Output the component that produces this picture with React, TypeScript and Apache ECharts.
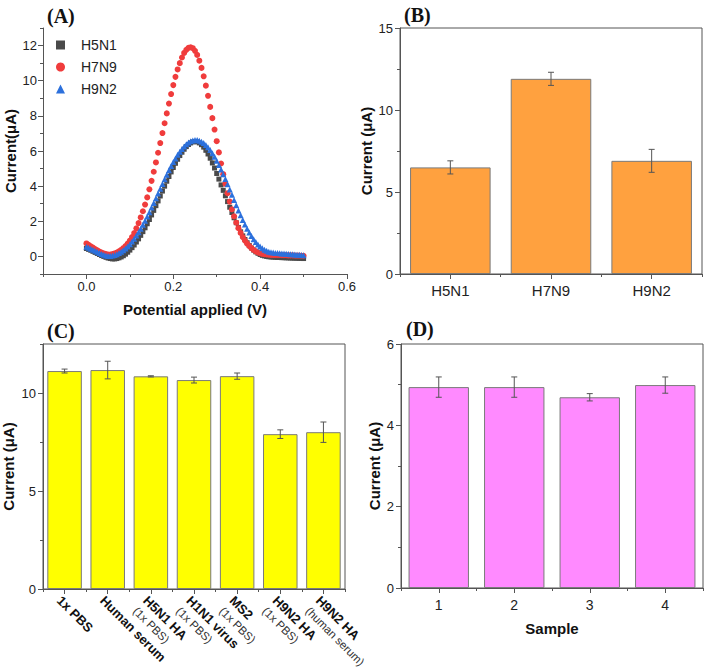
import React, { useEffect, useRef } from "react";
import * as echarts from "echarts";

// ---------- Panel A data (DPV curves) ----------
const potentials: number[] = Array.from({ length: 101 }, (_, i) => Math.round(i * 5) / 1000);
const h5n1Curve = [
  0.45, 0.40, 0.35, 0.29, 0.23, 0.17, 0.11, 0.05, 0.00, -0.05,
  -0.09, -0.12, -0.14, -0.14, -0.12, -0.08, -0.03, 0.04, 0.13, 0.24,
  0.36, 0.50, 0.65, 0.82, 1.00, 1.20, 1.41, 1.63, 1.86, 2.10,
  2.36, 2.62, 2.89, 3.16, 3.44, 3.72, 4.00, 4.28, 4.55, 4.81,
  5.06, 5.30, 5.53, 5.74, 5.93, 6.10, 6.25, 6.37, 6.46, 6.52,
  6.54, 6.52, 6.46, 6.36, 6.22, 6.04, 5.83, 5.59, 5.32, 5.03,
  4.72, 4.40, 4.07, 3.76, 3.45, 3.12, 2.80, 2.50, 2.20, 1.92,
  1.65, 1.40, 1.17, 0.96, 0.78, 0.62, 0.48, 0.36, 0.26, 0.18,
  0.11, 0.06, 0.03, 0.00, -0.02, -0.03, -0.04, -0.05, -0.06, -0.06,
  -0.07, -0.07, -0.08, -0.08, -0.09, -0.09, -0.10, -0.10, -0.11, -0.11,
  -0.12,
];
const h7n9Curve = [
  0.74, 0.66, 0.58, 0.50, 0.42, 0.35, 0.28, 0.22, 0.17, 0.13,
  0.11, 0.11, 0.13, 0.17, 0.22, 0.29, 0.37, 0.47, 0.59, 0.73,
  0.90, 1.10, 1.33, 1.60, 1.90, 2.22, 2.57, 2.95, 3.36, 3.82,
  4.30, 4.82, 5.35, 5.90, 6.45, 7.02, 7.58, 8.14, 8.70, 9.24,
  9.75, 10.22, 10.64, 11.00, 11.32, 11.58, 11.76, 11.87, 11.90, 11.85,
  11.70, 11.47, 11.14, 10.73, 10.25, 9.72, 9.14, 8.51, 7.87, 7.22,
  6.56, 5.92, 5.29, 4.68, 4.13, 3.60, 3.12, 2.68, 2.28, 1.92,
  1.61, 1.34, 1.10, 0.90, 0.73, 0.59, 0.47, 0.37, 0.29, 0.23,
  0.18, 0.15, 0.13, 0.11, 0.10, 0.09, 0.09, 0.08, 0.08, 0.08,
  0.07, 0.07, 0.07, 0.06, 0.06, 0.06, 0.05, 0.05, 0.05, 0.04,
  0.04,
];
const h9n2Curve = [
  0.55, 0.50, 0.44, 0.38, 0.32, 0.26, 0.20, 0.14, 0.09, 0.05,
  0.03, 0.03, 0.05, 0.08, 0.13, 0.19, 0.26, 0.35, 0.45, 0.57,
  0.70, 0.85, 1.01, 1.19, 1.38, 1.58, 1.80, 2.03, 2.27, 2.52,
  2.78, 3.04, 3.31, 3.58, 3.85, 4.12, 4.39, 4.65, 4.90, 5.14,
  5.37, 5.58, 5.78, 5.96, 6.12, 6.26, 6.38, 6.48, 6.55, 6.60,
  6.62, 6.62, 6.59, 6.53, 6.45, 6.34, 6.21, 6.05, 5.87, 5.67,
  5.45, 5.21, 4.95, 4.68, 4.40, 4.11, 3.81, 3.51, 3.21, 2.91,
  2.62, 2.34, 2.07, 1.82, 1.58, 1.36, 1.16, 0.98, 0.82, 0.68,
  0.56, 0.46, 0.38, 0.32, 0.27, 0.24, 0.22, 0.20, 0.19, 0.18,
  0.17, 0.16, 0.15, 0.14, 0.13, 0.12, 0.11, 0.10, 0.09, 0.08,
  0.07,
];
const aXMajor = [0, 0.2, 0.4, 0.6];
const aXMinor = [-0.1, 0.1, 0.3, 0.5];
const aYMajor = [0, 2, 4, 6, 8, 10, 12];
const aYMinor = [-1, 1, 3, 5, 7, 9, 11, 13];

// ---------- Panel B ----------
const bCategories = ["H5N1", "H7N9", "H9N2"];
const bValues = [6.5, 11.9, 6.9];
const bErrors = [0.4, 0.4, 0.7];
const bYMajor = [0, 5, 10, 15];
const bYMinor = [2.5, 7.5, 12.5];

// ---------- Panel C ----------
const cCategories = [
  ["1x PBS", ""],
  ["Human serum", ""],
  ["H5N1 HA", "(1x PBS)"],
  ["H1N1 virus", "(1x PBS)"],
  ["MS2", "(1x PBS)"],
  ["H9N2 HA", "(1x PBS)"],
  ["H9N2 HA", "(human serum)"],
];
const cValues = [11.12, 11.17, 10.85, 10.66, 10.86, 7.9, 8.0];
const cErrors = [0.1, 0.45, 0.03, 0.15, 0.16, 0.22, 0.52];
const cYMajor = [0, 5, 10];
const cYMinor = [2.5, 7.5, 12.5];

// ---------- Panel D ----------
const dCategories = ["1", "2", "3", "4"];
const dValues = [4.94, 4.94, 4.69, 4.99];
const dErrors = [0.25, 0.25, 0.09, 0.2];
const dYMajor = [0, 2, 4, 6];
const dYMinor = [1, 3, 5];

const FONT = "'Liberation Sans', Arial, Helvetica, sans-serif";
const AXIS_COLOR = "#555";
const TEXT_COLOR = "#222";

function majorValueAxis(grid: number, pos: string, min: number, max: number, ticks: number[], extra: any = {}) {
  return {
    type: "value",
    gridIndex: grid,
    position: pos,
    min,
    max,
    axisLine: { show: true, onZero: false, lineStyle: { color: AXIS_COLOR, width: 1 } },
    axisTick: { show: true, inside: false, length: 5, customValues: ticks, lineStyle: { color: AXIS_COLOR } },
    axisLabel: { show: true, customValues: ticks, color: TEXT_COLOR, fontFamily: FONT, fontSize: 13, margin: 7 },
    splitLine: { show: false },
    ...extra,
  };
}
function minorValueAxis(grid: number, pos: string, min: number, max: number, ticks: number[]) {
  return {
    type: "value",
    gridIndex: grid,
    position: pos,
    min,
    max,
    axisLine: { show: false, onZero: false },
    axisTick: { show: true, inside: false, length: 3, customValues: ticks, lineStyle: { color: AXIS_COLOR } },
    axisLabel: { show: false },
    splitLine: { show: false },
  };
}
function majorCatAxis(grid: number, data: any[], extra: any = {}) {
  return {
    type: "category",
    gridIndex: grid,
    position: "bottom",
    data,
    axisLine: { show: true, lineStyle: { color: AXIS_COLOR, width: 1 } },
    axisTick: { show: true, alignWithLabel: true, interval: 0, length: 5, lineStyle: { color: AXIS_COLOR } },
    splitLine: { show: false },
    ...extra,
  };
}
function minorCatAxis(grid: number, data: any[]) {
  return {
    type: "category",
    gridIndex: grid,
    position: "bottom",
    data,
    axisLine: { show: false },
    axisTick: { show: true, alignWithLabel: false, interval: 0, length: 3, lineStyle: { color: AXIS_COLOR } },
    axisLabel: { show: false },
    splitLine: { show: false },
  };
}
function barSeries(xi: number, yi: number, values: number[], color: string) {
  return {
    type: "bar",
    xAxisIndex: xi,
    yAxisIndex: yi,
    data: values,
    barCategoryGap: "20%",
    itemStyle: { color, borderColor: "#7a7a7a", borderWidth: 1 },
    silent: true,
  };
}
function errorSeries(xi: number, yi: number, values: number[], errs: number[]) {
  return {
    type: "custom",
    xAxisIndex: xi,
    yAxisIndex: yi,
    z: 10,
    silent: true,
    data: values.map((v, i) => [i, v - errs[i], v + errs[i]]),
    renderItem: (_params: any, api: any) => {
      const lo = api.coord([api.value(0), api.value(1)]);
      const hi = api.coord([api.value(0), api.value(2)]);
      const w = 3;
      const st = { stroke: "#555", lineWidth: 1 };
      return {
        type: "group",
        children: [
          { type: "line", shape: { x1: hi[0], y1: hi[1], x2: lo[0], y2: lo[1] }, style: st },
          { type: "line", shape: { x1: hi[0] - w, y1: hi[1], x2: hi[0] + w, y2: hi[1] }, style: st },
          { type: "line", shape: { x1: lo[0] - w, y1: lo[1], x2: lo[0] + w, y2: lo[1] }, style: st },
        ],
      };
    },
  };
}
function panelLabel(text: string, x: number, y: number) {
  return {
    type: "text",
    x,
    y,
    style: {
      text,
      font: "bold 20px 'Liberation Serif', 'Times New Roman', serif",
      fill: "#111",
      align: "left",
      verticalAlign: "middle",
    },
  };
}

const nameStyle = { fontFamily: FONT, fontSize: 15, fontWeight: "bold", color: "#111" };

export default function App() {
  const ref = useRef<HTMLDivElement>(null);
  useEffect(() => {
    if (!ref.current) return;
    const chart = echarts.init(ref.current, undefined, { renderer: "svg" });
    const gridBase = { outerBoundsMode: "none", containLabel: false };
    const option: any = {
      animation: false,
      backgroundColor: "#ffffff",
      textStyle: { fontFamily: FONT },
      grid: [
        { ...gridBase, left: 43, top: 28, width: 304, height: 246 },
        { ...gridBase, left: 400, top: 28, width: 302, height: 246, show: true, borderColor: AXIS_COLOR, borderWidth: 1 },
        { ...gridBase, left: 43, top: 344, width: 302, height: 245, show: true, borderColor: AXIS_COLOR, borderWidth: 1 },
        { ...gridBase, left: 401, top: 344, width: 302, height: 244, show: true, borderColor: AXIS_COLOR, borderWidth: 1 },
      ],
      legend: {
        orient: "vertical",
        left: 56,
        top: 38,
        padding: 0,
        itemGap: 8,
        itemWidth: 9,
        itemHeight: 9,
        data: ["H5N1", "H7N9", "H9N2"],
        textStyle: { fontFamily: FONT, fontSize: 14, color: TEXT_COLOR, padding: [0, 0, 0, 11] },
      },
      xAxis: [
        majorValueAxis(0, "bottom", -0.1, 0.6, aXMajor, {
          name: "Potential applied (V)",
          nameLocation: "middle",
          nameGap: 28,
          nameTextStyle: nameStyle,
          axisLabel: {
            show: true,
            customValues: aXMajor,
            color: TEXT_COLOR,
            fontFamily: FONT,
            fontSize: 13,
            margin: 6,
            formatter: (v: number) => v.toFixed(1),
          },
        }),
        minorValueAxis(0, "bottom", -0.1, 0.6, aXMinor),
        majorCatAxis(1, bCategories, {
          axisLabel: { color: TEXT_COLOR, fontFamily: FONT, fontSize: 15, margin: 9, interval: 0 },
        }),
        minorCatAxis(1, bCategories),
        majorCatAxis(2, cCategories.map((c) => c[0] + "|" + c[1]), {
          axisLabel: {
            interval: 0,
            rotate: -45,
            margin: 4,
            verticalAlign: "top",
            formatter: (v: string) => {
              const [a, b] = v.split("|");
              return b ? `{b|${a}}\n{n|${b}}` : `{b|${a}}`;
            },
            rich: {
              b: { fontFamily: FONT, fontSize: 13, fontWeight: "bold", color: "#111", lineHeight: 15 },
              n: { fontFamily: FONT, fontSize: 11.5, color: "#333", lineHeight: 15 },
            },
          },
        }),
        minorCatAxis(2, cCategories.map((c) => c[0] + "|" + c[1])),
        majorCatAxis(3, dCategories, {
          name: "Sample",
          nameLocation: "middle",
          nameGap: 33,
          nameTextStyle: nameStyle,
          axisLabel: { color: TEXT_COLOR, fontFamily: FONT, fontSize: 14, margin: 10, interval: 0 },
        }),
        minorCatAxis(3, dCategories),
      ],
      yAxis: [
        majorValueAxis(0, "left", -1, 13, aYMajor, {
          name: "Current(μA)",
          nameLocation: "middle",
          nameGap: 25,
          nameTextStyle: nameStyle,
          axisLabel: { show: true, customValues: aYMajor, color: TEXT_COLOR, fontFamily: FONT, fontSize: 13, margin: 6 },
        }),
        minorValueAxis(0, "left", -1, 13, aYMinor),
        majorValueAxis(1, "left", 0, 15, bYMajor, {
          name: "Current (μA)",
          nameLocation: "middle",
          nameGap: 26,
          nameTextStyle: nameStyle,
        }),
        minorValueAxis(1, "left", 0, 15, bYMinor),
        majorValueAxis(2, "left", 0, 12.5, cYMajor, {
          name: "Current (μA)",
          nameLocation: "middle",
          nameGap: 27,
          nameTextStyle: nameStyle,
        }),
        minorValueAxis(2, "left", 0, 12.5, cYMinor),
        majorValueAxis(3, "left", 0, 6, dYMajor, {
          name: "Current (μA)",
          nameLocation: "middle",
          nameGap: 19,
          nameTextStyle: nameStyle,
        }),
        minorValueAxis(3, "left", 0, 6, dYMinor),
      ],
      series: [
        {
          name: "H5N1",
          type: "scatter",
          xAxisIndex: 0,
          yAxisIndex: 0,
          symbol: "rect",
          symbolSize: 5,
          itemStyle: { color: "#4a4a4a", opacity: 1 },
          data: potentials.map((v, i) => [v, h5n1Curve[i]]),
          silent: true,
        },
        {
          name: "H7N9",
          type: "scatter",
          xAxisIndex: 0,
          yAxisIndex: 0,
          symbol: "circle",
          symbolSize: 6,
          itemStyle: { color: "#f03c3c", opacity: 1 },
          data: potentials.map((v, i) => [v, h7n9Curve[i]]),
          silent: true,
        },
        {
          name: "H9N2",
          type: "scatter",
          xAxisIndex: 0,
          yAxisIndex: 0,
          symbol: "triangle",
          symbolSize: 6,
          itemStyle: { color: "#2c70dc", opacity: 1 },
          data: potentials.map((v, i) => [v, h9n2Curve[i]]),
          silent: true,
        },
        barSeries(2, 2, bValues, "#ffa13f"),
        errorSeries(2, 2, bValues, bErrors),
        barSeries(4, 4, cValues, "#ffff00"),
        errorSeries(4, 4, cValues, cErrors),
        barSeries(6, 6, dValues, "#ff8aff"),
        errorSeries(6, 6, dValues, dErrors),
      ],
      graphic: [
        panelLabel("(A)", 47, 16),
        panelLabel("(B)", 404, 15),
        panelLabel("(C)", 47, 331),
        panelLabel("(D)", 406, 329),
      ],
    };
    chart.setOption(option);
    return () => chart.dispose();
  }, []);
  return (
    <div
      ref={ref}
      style={{ position: "absolute", left: 0, top: 0, width: 708, height: 672, background: "#fff" }}
    />
  );
}
